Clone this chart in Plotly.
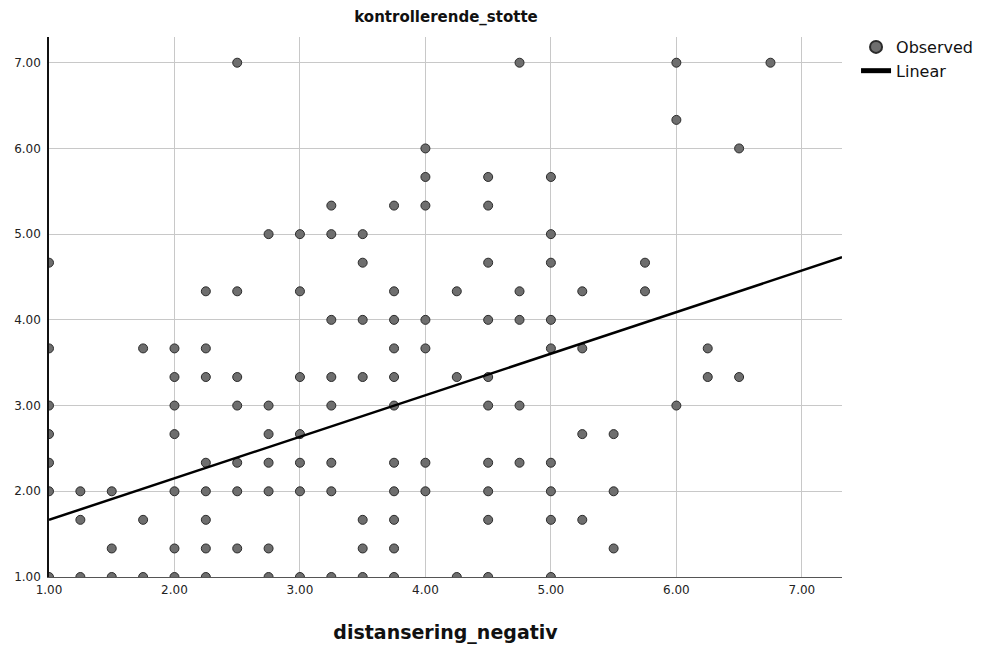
import plotly.graph_objects as go

# Observed data: y values per x column (x = distansering_negativ)
x_levels = [1.00, 1.25, 1.50, 1.75, 2.00, 2.25, 2.50, 2.75, 3.00, 3.25, 3.50, 3.75,
            4.00, 4.25, 4.50, 4.75, 5.00, 5.25, 5.50, 5.75, 6.00, 6.25, 6.50, 6.75]
y_by_x = [
    [4.667, 3.667, 3.0, 2.667, 2.333, 2.0, 1.0],
    [2.0, 1.667, 1.0],
    [2.0, 1.333, 1.0],
    [3.667, 1.667, 1.0],
    [3.667, 3.333, 3.0, 2.667, 2.0, 1.333, 1.0],
    [4.333, 3.667, 3.333, 2.333, 2.0, 1.667, 1.333, 1.0],
    [7.0, 4.333, 3.333, 3.0, 2.333, 2.0, 1.333],
    [5.0, 3.0, 2.667, 2.333, 2.0, 1.333, 1.0],
    [5.0, 4.333, 3.333, 2.667, 2.333, 2.0, 1.0],
    [5.333, 5.0, 4.0, 3.333, 3.0, 2.333, 2.0, 1.0],
    [5.0, 4.667, 4.0, 3.333, 1.667, 1.333, 1.0],
    [5.333, 4.333, 4.0, 3.667, 3.333, 3.0, 2.333, 2.0, 1.667, 1.333, 1.0],
    [6.0, 5.667, 5.333, 4.0, 3.667, 2.333, 2.0],
    [4.333, 3.333, 1.0],
    [5.667, 5.333, 4.667, 4.0, 3.333, 3.0, 2.333, 2.0, 1.667, 1.0],
    [7.0, 4.333, 4.0, 3.0, 2.333],
    [5.667, 5.0, 4.667, 4.0, 3.667, 2.333, 2.0, 1.667, 1.0],
    [4.333, 3.667, 2.667, 1.667],
    [2.667, 2.0, 1.333],
    [4.667, 4.333],
    [7.0, 6.333, 3.0],
    [3.667, 3.333],
    [6.0, 3.333],
    [7.0],
]

# Linear fit line (endpoints)
fit_x = [1.00, 7.32]
fit_y = [1.667, 4.73]

tick_vals = [1, 2, 3, 4, 5, 6, 7]
tick_text = ["1.00", "2.00", "3.00", "4.00", "5.00", "6.00", "7.00"]

obs_x = [x for x, ys in zip(x_levels, y_by_x) for _ in ys]
obs_y = [y for ys in y_by_x for y in ys]

FONT = "DejaVu Sans, Verdana, sans-serif"

fig = go.Figure()
fig.add_trace(go.Scatter(
    x=obs_x, y=obs_y, mode="markers", name="Observed",
    marker=dict(size=9, color="#6e6e6e", line=dict(color="#2b2b2b", width=1)),
))
fig.add_trace(go.Scatter(
    x=fit_x, y=fit_y, mode="lines", name="Linear",
    line=dict(color="black", width=2.5),
))

tick_font = dict(family=FONT, size=12, color="#222")

fig.update_layout(
    width=982, height=653,
    margin=dict(l=41, r=148, t=29, b=84, autoexpand=False),
    paper_bgcolor="white", plot_bgcolor="white",
    title=dict(text="<b>kontrollerende_stotte</b>", x=438 / 982, xanchor="center",
               xref="container", y=1 - 9 / 653, yanchor="middle", yref="container",
               font=dict(family=FONT, size=15, color="#111")),
    showlegend=True,
    legend=dict(x=1.0177, y=1.013, xanchor="left", yanchor="top",
                font=dict(family=FONT, size=16, color="#111"),
                bgcolor="rgba(0,0,0,0)", tracegroupgap=0, itemsizing="constant"),
    xaxis=dict(range=[1.0, 7.32], tickvals=tick_vals, ticktext=tick_text,
               showgrid=True, gridcolor="#c8c8c8", gridwidth=1, automargin=False,
               showline=True, linecolor="#555", linewidth=1, ticks="", zeroline=False,
               tickfont=tick_font, ticklabelstandoff=2,
               title=dict(text="<b>distansering_negativ</b>", standoff=29,
                          font=dict(family=FONT, size=19, color="#111"))),
    yaxis=dict(range=[1.0, 7.3], tickvals=tick_vals, ticktext=tick_text,
               showgrid=True, gridcolor="#c8c8c8", gridwidth=1, automargin=False,
               showline=True, linecolor="#111", linewidth=1.5, ticks="", zeroline=False,
               tickfont=tick_font, ticklabelstandoff=4),
)

fig.write_html("out.html")
